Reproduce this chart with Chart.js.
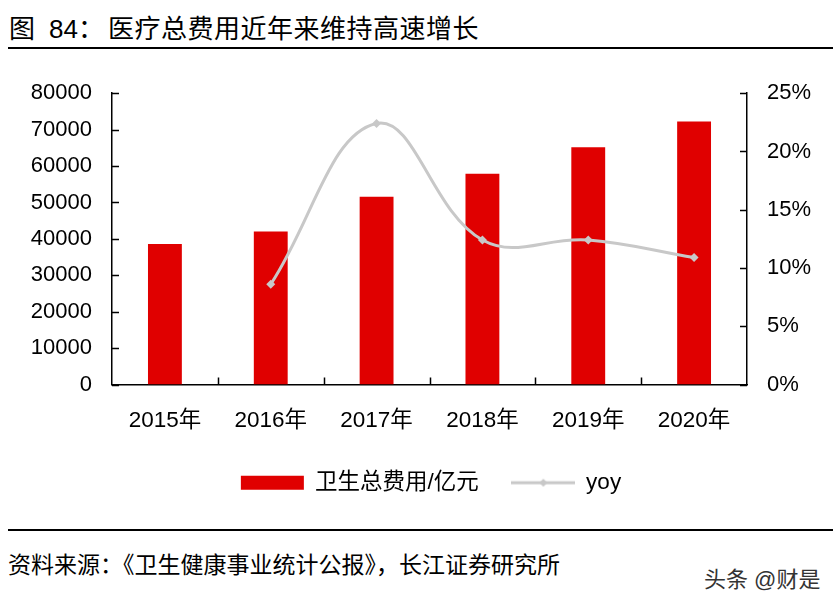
<!DOCTYPE html>
<html>
<head>
<meta charset="utf-8">
<script src="https://cdn.jsdelivr.net/npm/chart.js@4/dist/chart.umd.min.js"></script>
<style>
  html, body { margin: 0; padding: 0; background: #fff; }
  body { width: 838px; height: 610px; position: relative; overflow: hidden;
         font-family: "Liberation Sans", "Noto Sans CJK SC", sans-serif; color: #000; }
  #title { position: absolute; left: 9px; top: 13px; font-size: 26px; line-height: 32px; white-space: nowrap; }
  #title span { display: inline-block; }
  .rule { position: absolute; left: 8px; width: 825px; height: 2px; background: #000; }
  #wrap { position: absolute; left: 0; top: 60px; width: 838px; height: 460px; }
  #source { position: absolute; left: 8px; top: 550px; font-size: 23px; line-height: 30px; white-space: nowrap; }
  #mark { position: absolute; left: 704px; top: 566px; font-size: 22px; line-height: 28px; color: #333;
          text-shadow: 0 0 2px #fff, 0 0 2px #fff; white-space: nowrap; }
</style>
</head>
<body>
<div id="title"><span>图</span><span style="margin-left:14px">84</span><span>：</span><span style="margin-left:4px;letter-spacing:0.5px">医疗总费用近年来维持高速增长</span></div>
<div class="rule" style="top:47px"></div>
<div id="wrap"><canvas id="c"></canvas></div>
<div class="rule" style="top:529px"></div>
<div id="source">资料来源：《卫生健康事业统计公报》，长江证券研究所</div>
<div id="mark">头条 @财是</div>
<script>
// ---- data ----
const categories = ["2015年", "2016年", "2017年", "2018年", "2019年", "2020年"];
const totalCost = [38600, 42050, 51550, 57900, 65150, 72250];   // 卫生总费用/亿元
const yoy = [null, 8.6, 22.4, 12.4, 12.4, 10.9];                  // %
const leftTicks = [0, 10000, 20000, 30000, 40000, 50000, 60000, 70000, 80000];
const rightTicks = [0, 5, 10, 15, 20, 25];
const seriesNames = ["卫生总费用/亿元", "yoy"];

const RED = "#e00000";
const GREY = "#c8c8c8";
const FONT = '"Liberation Sans", "Noto Sans CJK SC", sans-serif';

// legend symbol for the line series (line + diamond)
function lineSymbol() {
  const cv = document.createElement("canvas");
  cv.width = 64; cv.height = 14;
  const c = cv.getContext("2d");
  c.strokeStyle = GREY; c.lineWidth = 3;
  c.beginPath(); c.moveTo(0, 7); c.lineTo(64, 7); c.stroke();
  c.fillStyle = GREY;
  c.beginPath(); c.moveTo(32, 3); c.lineTo(36, 7); c.lineTo(32, 11); c.lineTo(28, 7); c.closePath(); c.fill();
  return cv;
}

const inwardTicks = {
  id: "inwardTicks",
  afterDraw(chart) {
    const { ctx, chartArea: a, scales } = chart;
    const L = 7;
    ctx.save();
    ctx.strokeStyle = "#000";
    ctx.lineWidth = 1.5;
    ctx.beginPath();
    scales.y.ticks.forEach((t, i) => {
      const p = Math.round(scales.y.getPixelForTick(i)) + 0.5;
      ctx.moveTo(a.left, p); ctx.lineTo(a.left + L, p);
    });
    scales.y1.ticks.forEach((t, i) => {
      const p = Math.round(scales.y1.getPixelForTick(i)) + 0.5;
      ctx.moveTo(a.right - L, p); ctx.lineTo(a.right, p);
    });
    for (let i = 1; i < categories.length; i++) {
      const p = Math.round((scales.x.getPixelForValue(i - 1) + scales.x.getPixelForValue(i)) / 2) + 0.5;
      ctx.moveTo(p, a.bottom); ctx.lineTo(p, a.bottom - L);
    }
    ctx.stroke();
    ctx.restore();
  }
};

new Chart(document.getElementById("c"), {
  data: {
    labels: categories,
    datasets: [
      {
        type: "bar", label: seriesNames[0], data: totalCost, yAxisID: "y",
        backgroundColor: RED, borderWidth: 0,
        categoryPercentage: 1, barPercentage: 0.32, order: 1
      },
      {
        type: "line", label: seriesNames[1], data: yoy, yAxisID: "y1",
        borderColor: GREY, backgroundColor: GREY, borderWidth: 3,
        tension: 0.4, pointStyle: "rectRot", pointRadius: 4.5, pointBorderWidth: 0,
        pointBackgroundColor: GREY, order: 0
      }
    ]
  },
  options: {
    responsive: true, maintainAspectRatio: false, animation: false,
    layout: { padding: { left: 24, right: 0, top: 28, bottom: 16 } },
    plugins: {
      tooltip: { enabled: false },
      legend: {
        position: "bottom",
        labels: {
          font: { family: FONT, size: 22.5 }, color: "#000",
          usePointStyle: true, pointStyleWidth: 63, boxWidth: 63, boxHeight: 14, padding: 33,
          generateLabels(chart) {
            const sym = lineSymbol();
            return chart.data.datasets.map((ds, i) => ({
              text: ds.label, datasetIndex: i,
              fillStyle: i === 0 ? RED : GREY, strokeStyle: i === 0 ? RED : GREY,
              lineWidth: 0, fontColor: "#000",
              pointStyle: i === 0 ? "rect" : sym, hidden: false
            }));
          }
        }
      }
    },
    scales: {
      x: {
        grid: { display: false, drawTicks: false },
        border: { color: "#000", width: 1.5 },
        ticks: { font: { family: FONT, size: 22.5 }, color: "#000", padding: 23 },
        afterFit(s) { s.height = 54; }
      },
      y: {
        position: "left", min: 0, max: 80000,
        afterBuildTicks(s) { s.ticks = leftTicks.map(v => ({ value: v })); },
        grid: { display: false, drawTicks: false },
        border: { color: "#000", width: 1.5 },
        ticks: { font: { family: FONT, size: 22 }, color: "#000", padding: 20, callback: v => String(v) },
        afterFit(s) { s.width = 88; }
      },
      y1: {
        position: "right", min: 0, max: 25,
        afterBuildTicks(s) { s.ticks = rightTicks.map(v => ({ value: v })); },
        grid: { display: false, drawTicks: false },
        border: { color: "#000", width: 1.5 },
        ticks: { font: { family: FONT, size: 22 }, color: "#000", padding: 20, callback: v => v + "%" },
        afterFit(s) { s.width = 91; }
      }
    }
  },
  plugins: [inwardTicks]
});
</script>
</body>
</html>
